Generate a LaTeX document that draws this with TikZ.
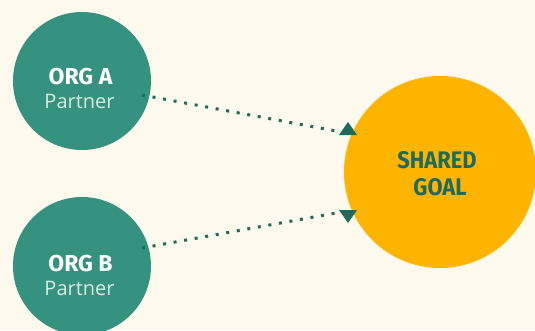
\documentclass[tikz,border=0pt]{standalone}
\usepackage{fontspec}
\setmainfont{Open Sans}
\newfontfamily\headfont{Fira Sans}
\newfontfamily\goalfont[FakeStretch=0.91]{Fira Sans}
\definecolor{bg}{HTML}{FFFAEE}
\definecolor{teal}{HTML}{35927F}
\definecolor{darkteal}{HTML}{1F6B5B}
\definecolor{gold}{HTML}{FFB400}
\definecolor{pale}{HTML}{D8EDE5}
\tikzset{
  partner/.style={circle, fill=teal, minimum size=138pt, inner sep=0pt},
  goalc/.style={circle, fill=gold, minimum size=192pt, inner sep=0pt},
  orgtxt/.style={anchor=base, text=white, font=\headfont\bfseries\fontsize{23}{23}\selectfont, inner sep=0pt},
  subtxt/.style={anchor=base, text=pale, font=\fontsize{20}{20}\selectfont, inner sep=0pt},
  goaltxt/.style={anchor=base, text=darkteal, font=\goalfont\bfseries\fontsize{24}{24}\selectfont, inner sep=0pt},
  dotline/.style={draw=darkteal, line width=3pt, dash pattern=on 3pt off 7.7pt},
  tip/.style={fill=darkteal}
}
\begin{document}
\begin{tikzpicture}[x=1pt,y=1pt]
\fill[bg] (0,0) rectangle (535,330);
\useasboundingbox (0,0) rectangle (535,330);
\begin{scope}
\clip (0,0) rectangle (535,330);
\node[partner] (orgA) at (82,249) {};
\node[partner] (orgB) at (82,64) {};
\node[goalc] (goal) at (440,158) {};
\end{scope}
\node[orgtxt] (orgAt) at (80.5,246) {ORG A};
\node[subtxt] (orgAs) at (79.5,222) {Partner};
\node[orgtxt] (orgBt) at (80.5,59) {ORG B};
\node[subtxt] (orgBs) at (79.5,35) {Partner};
\node[goaltxt] (goalt1) at (437,162) {SHARED};
\node[goaltxt] (goalt2) at (440,135) {GOAL};
\coordinate (a1) at (142,235);
\coordinate (a2) at (336,199);
\coordinate (b1) at (142,82);
\coordinate (b2) at (336,117);
\draw[dotline] (a1) -- (a2);
\draw[dotline] (b1) -- (b2);
\fill[tip] (339,195) -- (357,195) -- (348,208) -- cycle;
\fill[tip] (339,120) -- (357,120) -- (348,107) -- cycle;
\end{tikzpicture}
\end{document}
